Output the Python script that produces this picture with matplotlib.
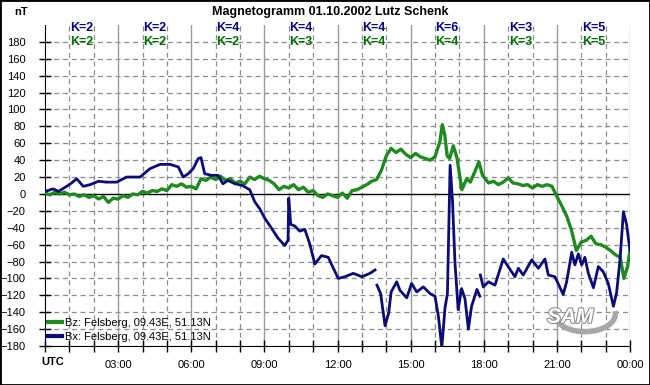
import numpy as np
import matplotlib.pyplot as plt
import matplotlib.patheffects as pe
from matplotlib.patches import Arc, Rectangle
from matplotlib.lines import Line2D

plt.rcParams['font.family'] = ['Liberation Sans', 'DejaVu Sans']

# Bx (blue), hours UTC / nT
bx_t = [0.0, 0.34, 0.55, 0.89, 1.09, 1.3, 1.57, 1.85, 2.19, 2.53, 2.94, 3.35, 3.9, 4.31, 4.72,
        5.13, 5.47, 5.67, 5.88, 6.08, 6.29, 6.4, 6.55, 6.83, 7.1, 7.3, 7.5, 7.8, 8.1, 8.4,
        8.6, 8.82, 9.0, 9.28, 9.55, 9.83, 9.97, 10.0, 10.08, 10.25, 10.45, 10.66, 10.86, 11.07,
        11.34, 11.62, 11.83, 12.03, 12.3, 12.65, 13.0, 13.33, 13.54, 13.6, 13.62, 13.77, 13.95,
        14.1, 14.2, 14.43, 14.56, 14.84, 15.04, 15.25, 15.52, 15.8, 16.0, 16.14, 16.28, 16.41,
        16.51, 16.62, 16.72, 16.82, 16.95, 17.09, 17.23, 17.37, 17.5, 17.72, 17.84, 17.85, 17.86,
        17.98, 18.19, 18.46, 18.8, 19.0, 19.28, 19.42, 19.62, 19.97, 20.24, 20.51, 20.65, 20.92,
        21.26, 21.4, 21.61, 21.74, 21.88, 22.02, 22.15, 22.29, 22.5, 22.7, 22.9, 23.11, 23.32,
        23.45, 23.59, 23.73, 23.86, 24.0]
bx_v = [3, 6, 3, 9, 13, 18, 9, 11, 15, 14, 14, 20, 20, 30, 35,
        35, 32, 20, 24, 30, 42, 43, 24, 22, 22, 12, 16, 12, 10, 5,
        -9, -18, -28, -40, -52, -61, -55, -5, -36, -38, -44, -42, -59, -83,
        -73, -75, -88, -100, -98, -94, -98, -94, -90, np.nan, -108, -118, -156,
        -141, -116, -104, -114, -123, -106, -116, -110, -118, -121, -145, -182, -135,
        -118, 34, -9, -82, -137, -112, -124, -160, -133, -113, -121, np.nan, -96,
        -110, -104, -108, -77, -86, -98, -88, -96, -78, -88, -77, -96, -98,
        -119, -104, -69, -84, -71, -84, -75, -94, -111, -86, -92, -106, -133,
        -117, -78, -21, -36, -67]

# Bz (green)
bz_t = [0.0, 0.2, 0.4, 0.6, 0.8, 1.0, 1.2, 1.4, 1.6, 1.8, 2.0, 2.2, 2.4, 2.6, 2.8, 3.0, 3.2,
        3.4, 3.6, 3.8, 4.0, 4.2, 4.4, 4.6, 4.8, 5.0, 5.2, 5.4, 5.6, 5.8, 6.0, 6.2, 6.4, 6.6,
        6.8, 7.0, 7.2, 7.4, 7.6, 7.8, 8.0, 8.2, 8.4, 8.6, 8.8, 9.0, 9.2, 9.4, 9.6, 9.8, 10.0,
        10.2, 10.4, 10.6, 10.8, 11.0, 11.2, 11.4, 11.6, 11.8, 12.0, 12.2, 12.4, 12.6, 12.8, 13.0,
        13.2, 13.4, 13.6, 13.8, 14.0, 14.2, 14.4, 14.6, 14.8, 15.0, 15.2, 15.4, 15.6, 15.8, 16.0,
        16.2, 16.3, 16.4, 16.5, 16.6, 16.75, 16.9, 17.1, 17.3, 17.45, 17.6, 17.8, 17.95, 18.2,
        18.4, 18.6, 18.8, 19.0, 19.2, 19.4, 19.6, 19.8, 20.0, 20.2, 20.4, 20.6, 20.8, 21.0, 21.2,
        21.4, 21.6, 21.8, 22.0, 22.2, 22.4, 22.6, 22.8, 23.0, 23.2, 23.4, 23.6, 23.75, 23.9, 24.0]
bz_v = [1, -1, 2, 0, 2, -1, 0, -3, -1, -4, -2, -6, -3, -10, -5, -6, -2,
        -4, 0, -1, 3, 1, 4, 3, 6, 4, 11, 9, 12, 8, 9, 6, 18, 16,
        20, 17, 21, 16, 18, 13, 15, 12, 20, 17, 21, 18, 16, 12, 5, 9, 7,
        11, 5, 8, 2, 4, -2, -4, 0, -2, -4, 1, -5, 4, 5, 8,
        11, 15, 17, 28, 45, 54, 49, 53, 47, 43, 48, 44, 42, 40, 44,
        62, 82, 70, 45, 42, 57, 43, 5, 18, 14, 24, 38, 22, 13,
        15, 11, 14, 19, 13, 12, 10, 11, 7, 11, 9, 11, 9, -3, -14,
        -26, -43, -67, -57, -55, -50, -59, -60, -63, -67, -72, -75, -100, -86, -67]

k_bx = [2, 2, 4, 4, 4, 6, 3, 5]
k_bz = [2, 2, 2, 3, 4, 4, 3, 5]
xlabels = ['03:00', '06:00', '09:00', '12:00', '15:00', '18:00', '21:00', '00:00']

blue = '#0c0c78'
green = '#1f8a1f'

fig = plt.figure(figsize=(6.5, 3.85), dpi=100)
ax = fig.add_axes([45/650, 39/385, 585/650, 321/385])

# grid
for y in range(-180, 181, 20):
    if y == 0:
        ax.axhline(0, color='black', lw=1, zorder=2)
    else:
        ax.axhline(y, color='#8c8c8c', lw=0.9, ls=(0, (4, 3)), zorder=1)
for h in range(1, 25):
    if h % 3 == 0:
        ax.axvline(h, color='#9a9a9a', lw=1, zorder=1)
    else:
        ax.axvline(h, color='#8c8c8c', lw=0.9, ls=(0, (4, 3)), zorder=1)

# SAM logo
ax.add_patch(Arc((22.15, -142), 2.5, 42, theta1=-150, theta2=70, color='#a8a8a8', lw=4, zorder=2))
ax.text(21.55, -146, 'SAM', fontsize=15, fontstyle='italic', fontweight='bold', color='white',
        ha='center', va='center', zorder=2,
        path_effects=[pe.withStroke(linewidth=1.5, foreground='#8a8a8a')])

ax.plot(bz_t, bz_v, color=green, lw=2.4, zorder=3)
ax.plot(bx_t, bx_v, color=blue, lw=2, zorder=4)

for i in range(8):
    ax.text(1.5 + 3*i, 196, 'K=%d' % k_bx[i], color='#000080', fontsize=9, fontweight='bold',
            ha='center', va='center')
    ax.text(1.5 + 3*i, 180, 'K=%d' % k_bz[i], color='#007000', fontsize=9, fontweight='bold',
            ha='center', va='center')

ax.set_xlim(0, 24)
ax.set_ylim(-180, 200)
ax.set_yticks(range(-180, 181, 20))
ax.set_xticks(range(0, 25))
ax.set_xticklabels([''] + [xlabels[h//3 - 1] if h % 3 == 0 else '' for h in range(1, 25)])
ax.tick_params(direction='inout', length=8, width=1, labelsize=8, colors='black')
ax.tick_params(axis='y', pad=10)
ax.tick_params(axis='x', pad=6)
ax.spines['top'].set_visible(False)
ax.spines['right'].set_visible(False)

handles = [Line2D([], [], color=green, lw=3), Line2D([], [], color=blue, lw=3)]
ax.legend(handles, ['Bz: Felsberg, 09.43E, 51.13N', 'Bx: Felsberg, 09.43E, 51.13N'],
          loc='lower left', bbox_to_anchor=(0.003, 0.01), frameon=False, fontsize=8,
          handlelength=1.3, handletextpad=0.25, labelspacing=0.35, borderpad=0.1,
          borderaxespad=0)

fig.text(330/650, 1 - 12/385, 'Magnetogramm 01.10.2002 Lutz Schenk', fontsize=9,
         fontweight='bold', ha='center', va='center')
fig.text(21/650, 1 - 12/385, 'nT', fontsize=8, fontweight='bold', ha='center', va='center')
fig.text(53/650, 1 - 362/385, 'UTC', fontsize=8, fontweight='bold', ha='center', va='center')

fig.patches.append(Rectangle((0, 0), 1, 1, transform=fig.transFigure, fill=False,
                             edgecolor='black', lw=2))

plt.savefig('out.png', dpi=100)
